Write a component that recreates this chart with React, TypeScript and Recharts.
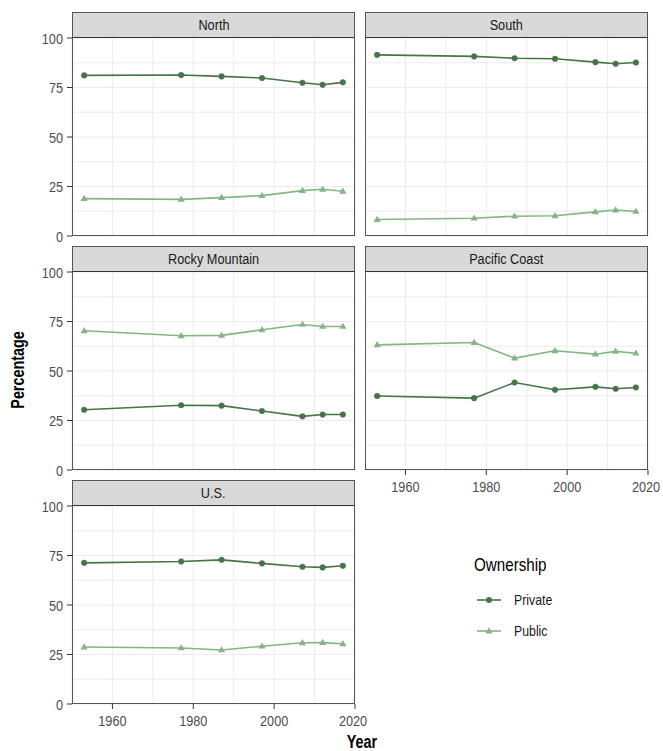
import React from 'react';
import { LineChart, Line, XAxis, YAxis, CartesianGrid } from 'recharts';

// ---------- data ----------
const years = [1953, 1977, 1987, 1997, 2007, 2012, 2017];

const northPrivate = [81.1, 81.3, 80.6, 79.8, 77.4, 76.4, 77.6];
const northPublic = [18.9, 18.5, 19.4, 20.4, 22.9, 23.6, 22.6];

const southPrivate = [91.5, 90.7, 89.8, 89.5, 87.8, 87.0, 87.6];
const southPublic = [8.3, 9.0, 10.0, 10.2, 12.2, 13.1, 12.4];

const rockyPrivate = [30.4, 32.7, 32.5, 29.8, 27.1, 28.0, 28.0];
const rockyPublic = [70.3, 67.8, 68.0, 70.8, 73.5, 72.5, 72.5];

const pacificPrivate = [37.4, 36.3, 44.2, 40.5, 42.0, 41.0, 41.7];
const pacificPublic = [63.2, 64.4, 56.5, 60.2, 58.5, 59.9, 59.0];

const usPrivate = [71.3, 72.0, 72.8, 71.0, 69.3, 69.0, 69.8];
const usPublic = [28.8, 28.3, 27.3, 29.2, 30.9, 31.0, 30.4];

const seriesNames = ['Private', 'Public'];
const xTicks = [1960, 1980, 2000, 2020];
const xGrid = [1950, 1960, 1970, 1980, 1990, 2000, 2010, 2020];
const yTicks = [0, 25, 50, 75, 100];
const yGrid = [0, 12.5, 25, 37.5, 50, 62.5, 75, 87.5, 100];

// ---------- style ----------
const FONT = "'Liberation Sans', Arial, sans-serif";
const NARROW = 0.82;
const PRIVATE_COLOR = '#467446';
const PUBLIC_COLOR = '#84b584';
const TICK_COLOR = '#4d4d4d';
const BORDER = '#555555';

const PW = 283;
const PH = 198;
const STRIP_H = 26;

const buildRows = (priv: number[], pub: number[]) =>
  years.map((y, i) => ({ year: y, Private: priv[i], Public: pub[i] }));

const TriangleDot = (props: any) => {
  const { cx, cy } = props;
  if (cx == null || cy == null) return null;
  return (
    <polygon
      points={`${cx},${cy - 3.8} ${cx - 3.6},${cy + 2.4} ${cx + 3.6},${cy + 2.4}`}
      fill={PUBLIC_COLOR}
      stroke="none"
    />
  );
};

const XTick = (props: any) => {
  const { x, y, payload } = props;
  return (
    <g transform={`translate(${x},${y})`}>
      <text transform={`scale(${NARROW},1)`} textAnchor="middle" dy="0.71em" fill={TICK_COLOR} fontSize={15.5} fontFamily={FONT}>
        {payload.value}
      </text>
    </g>
  );
};

const YTick = (props: any) => {
  const { x, y, payload } = props;
  return (
    <g transform={`translate(${x},${y})`}>
      <text transform={`scale(${NARROW},1)`} textAnchor="end" dy="0.355em" fill={TICK_COLOR} fontSize={15.5} fontFamily={FONT}>
        {payload.value}
      </text>
    </g>
  );
};

const Narrow = ({ children, origin = 'center' }: { children: React.ReactNode; origin?: string }) => (
  <span style={{ display: 'inline-block', transform: `scaleX(${NARROW})`, transformOrigin: origin, whiteSpace: 'nowrap' }}>
    {children}
  </span>
);

type PanelProps = {
  title: string;
  priv: number[];
  pub: number[];
  plotLeft: number;
  plotTop: number;
  showX: boolean;
  showY: boolean;
};

const Panel = ({ title, priv, pub, plotLeft, plotTop, showX, showY }: PanelProps) => {
  const yW = showY ? 50 : 0;
  const padT = 10;
  const padR = 14;
  const padB = 10;
  const xH = showX ? 32 : 0;
  const width = yW + PW + padR;
  const height = padT + PH + xH + padB;
  const data = buildRows(priv, pub);
  return (
    <>
      <div style={{ position: 'absolute', left: plotLeft - yW, top: plotTop - padT }}>
        <LineChart width={width} height={height} data={data} margin={{ top: padT, right: padR, bottom: padB, left: 0 }}>
          <XAxis xAxisId="grid" type="number" dataKey="year" domain={[1950, 2020]} ticks={xGrid} hide allowDataOverflow />
          <YAxis yAxisId="grid" type="number" domain={[0, 100]} ticks={yGrid} hide allowDataOverflow />
          <CartesianGrid xAxisId="grid" yAxisId="grid" stroke="#ebebeb" strokeWidth={1} />
          <XAxis
            dataKey="year"
            type="number"
            domain={[1950, 2020]}
            ticks={xTicks}
            allowDataOverflow
            hide={!showX}
            height={xH}
            axisLine={false}
            tickSize={5}
            tickMargin={6}
            tickLine={{ stroke: '#333333' }}
            tick={<XTick />}
          />
          <YAxis
            type="number"
            domain={[0, 100]}
            ticks={yTicks}
            allowDataOverflow
            hide={!showY}
            width={yW}
            axisLine={false}
            tickSize={5}
            tickMargin={4}
            tickLine={{ stroke: '#333333' }}
            tick={<YTick />}
          />
          <Line
            dataKey="Private"
            name={seriesNames[0]}
            stroke={PRIVATE_COLOR}
            strokeWidth={1.6}
            dot={{ r: 2.8, fill: PRIVATE_COLOR, stroke: PRIVATE_COLOR, strokeWidth: 0.5 }}
            isAnimationActive={false}
          />
          <Line
            dataKey="Public"
            name={seriesNames[1]}
            stroke={PUBLIC_COLOR}
            strokeWidth={1.6}
            dot={<TriangleDot />}
            isAnimationActive={false}
          />
        </LineChart>
      </div>
      <div
        style={{
          position: 'absolute',
          left: plotLeft,
          top: plotTop,
          width: PW,
          height: PH,
          boxSizing: 'border-box',
          border: `1px solid ${BORDER}`,
          borderTop: 'none',
          pointerEvents: 'none',
        }}
      />
      <div
        style={{
          position: 'absolute',
          left: plotLeft,
          top: plotTop - STRIP_H,
          width: PW,
          height: STRIP_H,
          boxSizing: 'border-box',
          background: '#d9d9d9',
          border: `1px solid ${BORDER}`,
          borderBottom: '1.5px solid #333333',
          fontFamily: FONT,
          fontSize: 15.5,
          color: '#1a1a1a',
          display: 'flex',
          alignItems: 'center',
          justifyContent: 'center',
        }}
      >
        <Narrow>{title}</Narrow>
      </div>
    </>
  );
};

const LegendKey = ({ color, triangle }: { color: string; triangle: boolean }) => (
  <svg width={26} height={12} style={{ display: 'block' }}>
    <line x1={1} y1={6} x2={25} y2={6} stroke={color} strokeWidth={1.6} />
    {triangle ? (
      <polygon points="13,2.2 9.4,8.4 16.6,8.4" fill={color} />
    ) : (
      <circle cx={13} cy={6} r={3} fill={color} />
    )}
  </svg>
);

export default function App() {
  return (
    <div
      style={{
        position: 'absolute',
        left: 0,
        top: 0,
        width: 663,
        height: 751,
        background: '#ffffff',
        overflow: 'hidden',
        fontFamily: FONT,
      }}
    >
      <Panel title="North" priv={northPrivate} pub={northPublic} plotLeft={72} plotTop={38} showX={false} showY={true} />
      <Panel title="South" priv={southPrivate} pub={southPublic} plotLeft={365} plotTop={38} showX={false} showY={false} />
      <Panel title="Rocky Mountain" priv={rockyPrivate} pub={rockyPublic} plotLeft={72} plotTop={272} showX={false} showY={true} />
      <Panel title="Pacific Coast" priv={pacificPrivate} pub={pacificPublic} plotLeft={365} plotTop={272} showX={true} showY={false} />
      <Panel title="U.S." priv={usPrivate} pub={usPublic} plotLeft={72} plotTop={506} showX={true} showY={true} />

      {/* axis titles */}
      <div
        style={{
          position: 'absolute',
          left: 18,
          top: 370,
          transform: `translate(-50%, -50%) rotate(-90deg) scaleX(${NARROW})`,
          fontWeight: 'bold',
          fontSize: 17.5,
          color: '#000',
          whiteSpace: 'nowrap',
        }}
      >
        Percentage
      </div>
      <div
        style={{
          position: 'absolute',
          left: 362,
          top: 742,
          transform: `translate(-50%, -50%) scaleX(${NARROW})`,
          fontWeight: 'bold',
          fontSize: 17.5,
          color: '#000',
          whiteSpace: 'nowrap',
        }}
      >
        Year
      </div>

      {/* legend */}
      <div style={{ position: 'absolute', left: 474, top: 565, transform: 'translateY(-50%)', fontSize: 18.5, color: '#000' }}>
        <Narrow origin="left center">Ownership</Narrow>
      </div>
      <div style={{ position: 'absolute', left: 476, top: 591, display: 'flex', alignItems: 'center' }}>
        <LegendKey color={PRIVATE_COLOR} triangle={false} />
        <span style={{ marginLeft: 12, fontSize: 15, color: '#1a1a1a' }}>
          <Narrow origin="left center">{seriesNames[0]}</Narrow>
        </span>
      </div>
      <div style={{ position: 'absolute', left: 476, top: 622, display: 'flex', alignItems: 'center' }}>
        <LegendKey color={PUBLIC_COLOR} triangle={true} />
        <span style={{ marginLeft: 12, fontSize: 15, color: '#1a1a1a' }}>
          <Narrow origin="left center">{seriesNames[1]}</Narrow>
        </span>
      </div>
    </div>
  );
}
